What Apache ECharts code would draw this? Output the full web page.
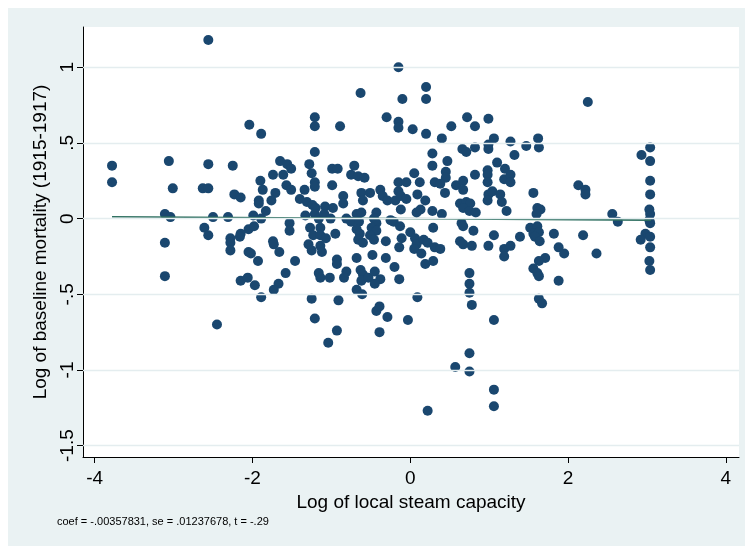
<!DOCTYPE html>
<html>
<head>
<meta charset="utf-8">
<script src="https://cdn.jsdelivr.net/npm/echarts@6/dist/echarts.min.js"></script>
<style>
html, body { margin: 0; padding: 0; background: #ffffff; }
#main { width: 745px; height: 546px; }
</style>
</head>
<body>
<div id="main"></div>
<script>
// log of local steam capacity (x) and log of baseline mortality (y), one entry per county
var steamCapacity = [
  -2.56, -2.04, -1.89, -3.78, -3.78, -3.06, -3.01, -2.56, -2.63, -2.56,
  -2.25, -1.65, -1.56, -1.51, -1.74, -1.61, -1.90, -1.87, -1.71, -1.57,
  -1.51, -2.23, -2.15, -1.92, -1.92, -1.76, -1.83, -1.40, -3.11, -3.04,
  -2.50, -2.31, -1.99, -1.89, -2.61, -2.56, -1.53, -1.53, -2.05, -1.98,
  -2.15, -2.16, -2.28, -2.28, -2.28, -3.11, -3.11, -1.74, -1.73, -1.66,
  -2.05, -2.02, -1.93, -1.46, -1.58, -1.67, -1.73, -2.15, -2.06, -1.97,
  -1.89, -2.45,
  -0.15, -0.63, 0.20, 0.20, -0.10, -1.21, -1.21, -0.89, -0.30, -0.15,
  -0.15, 0.03, 0.20, 0.40, 0.52, 0.72, 0.82, 0.99, 1.06, 0.99,
  0.99, 1.27, 1.32, 0.66, 0.71, 0.82, 0.28, 0.28, 0.47, -1.21,
  -1.28, -1.25, -1.21, -1.21, -1.34, -0.99, -0.92, -0.99, -0.71, -0.75,
  -0.66, -0.58, 0.05, 0.45, 0.45, 0.31, 0.38, 0.58, 0.67, 0.82,
  0.98, 0.98, 0.98, 1.10, 1.20, 1.19, 1.27, 1.27, -0.15, -0.05,
  0.12, -0.38, 0.67,
  -0.85, -0.85, -0.62, -0.51, -0.60, -0.35, -0.29, -0.19, -0.15, -0.12,
  -0.05, 0.09, 0.19, -0.12, 0.08, 0.13, 0.28, 0.40, 0.44, 0.63,
  0.71, 0.76, 0.67, 0.75, 0.83, 0.65, 0.67, 0.80, 0.99, 1.04,
  1.14, 1.16, 0.98, 1.22,
  -1.31, -1.24, -1.20, -1.33, -1.21, -1.16, -1.08, -0.98, -1.09, -1.01,
  -0.81, -0.75, -0.68, -0.62, -0.65, -0.43, -0.46, -0.43, -0.25, -0.21,
  -1.27, -1.14, -1.23, -1.14, -1.29, -1.25, -1.14, -1.12, -0.95, -1.07,
  -0.68, -0.64, -0.66, -0.60, -0.49, -0.43, -0.51, -0.46, -0.31, -0.13,
  -0.11, 0.00, 0.06, 0.08, 0.05, 0.17, 0.22, 0.29, 0.31, 0.38,
  0.14, 0.19, 0.29, -0.14, -0.31, -0.20, -0.48, -0.68, -0.93, -0.93,
  -1.16, -1.14, -1.02, -0.81, -0.84, -0.63, -0.60, -0.62, -0.53, -0.45,
  -0.38, -0.45, -0.14, -0.68, -0.61, -1.25, -0.91, 0.09, 0.63, 0.67,
  0.78, 0.99, 1.06, 1.19, 1.19, 1.27, 1.39, 0.75, 0.75, 0.75,
  -1.21, -0.93, -1.04, -0.43, -0.39, -0.29, -0.39, -0.03, 0.22, 0.78,
  1.06, 0.75, 0.57, 0.75, 1.06, 1.06,
  2.25, 1.62, 1.47, 1.63, 3.04, 2.93, 3.04, 3.04, 2.13, 2.22,
  2.22, 1.56, 3.04, 1.61, 1.65, 1.60, 2.56, 2.63, 3.03, 3.04,
  3.03, 3.04, 1.52, 1.61, 1.56, 1.63, 1.58, 1.64, 1.82, 2.19,
  1.88, 1.95, 2.36, 2.98, 3.04, 2.92, 3.04, 3.03, 3.04, 1.71,
  1.63, 1.56, 1.61, 1.63, 1.88, 1.63, 1.67
];
var baselineMortality = [
  1.18, 0.62, 0.56, 0.35, 0.24, 0.38, 0.20, 0.36, 0.20, 0.20,
  0.35, 0.38, 0.36, 0.33, 0.29, 0.29, 0.25, 0.19, 0.17, 0.22,
  0.19, 0.16, 0.14, 0.12, 0.10, 0.12, 0.05, 0.13, 0.03, 0.01,
  0.01, 0.01, 0.02, 0.00, -0.06, -0.11, -0.03, -0.08, -0.07, -0.05,
  -0.10, -0.12, -0.13, -0.16, -0.21, -0.16, -0.38, -0.15, -0.17, -0.22,
  -0.22, -0.23, -0.28, -0.28, -0.36, -0.43, -0.47, -0.41, -0.39, -0.44,
  -0.52, -0.70,
  1.00, 0.83, 0.87, 0.79, 0.79, 0.67, 0.61, 0.61, 0.67, 0.64,
  0.60, 0.59, 0.56, 0.53, 0.61, 0.67, 0.61, 0.66, 0.53, 0.49,
  0.46, 0.51, 0.42, 0.46, 0.44, 0.47, 0.43, 0.35, 0.38, 0.44,
  0.36, 0.30, 0.24, 0.21, 0.19, 0.33, 0.33, 0.22, 0.35, 0.29,
  0.28, 0.27, 0.30, 0.31, 0.27, 0.24, 0.23, 0.22, 0.25, 0.29,
  0.32, 0.29, 0.24, 0.37, 0.33, 0.26, 0.29, 0.24, 0.24, 0.24,
  0.24, 0.19, 0.19,
  0.15, 0.10, 0.17, 0.17, 0.12, 0.15, 0.12, 0.12, 0.18, 0.15,
  0.13, 0.16, 0.12, 0.06, 0.04, 0.06, 0.05, 0.03, 0.17, 0.10,
  0.11, 0.10, 0.07, 0.05, 0.04, -0.03, -0.05, -0.08, 0.16, 0.18,
  0.16, 0.11, 0.12, 0.05,
  0.11, 0.09, 0.07, 0.02, 0.03, 0.00, 0.08, 0.07, 0.03, 0.00,
  0.00, -0.02, 0.03, 0.04, -0.02, 0.04, 0.00, -0.03, -0.01, -0.02,
  -0.06, -0.06, -0.11, -0.11, -0.17, -0.21, -0.18, -0.22, -0.10, -0.13,
  -0.07, -0.10, -0.14, -0.16, -0.06, -0.08, -0.11, -0.14, -0.15, -0.05,
  -0.13, -0.09, -0.13, -0.17, -0.20, -0.14, -0.16, -0.06, -0.19, -0.20,
  -0.23, -0.30, -0.28, -0.19, -0.26, -0.32, -0.24, -0.26, -0.27, -0.30,
  -0.36, -0.39, -0.39, -0.35, -0.39, -0.34, -0.37, -0.41, -0.39, -0.35,
  -0.40, -0.43, -0.40, -0.47, -0.50, -0.53, -0.54, -0.52, -0.15, -0.17,
  -0.18, -0.18, -0.11, -0.20, -0.25, -0.18, -0.12, -0.36, -0.43, -0.49,
  -0.66, -0.74, -0.82, -0.61, -0.58, -0.65, -0.75, -0.67, -1.27, -0.57,
  -0.67, -0.89, -0.98, -1.01, -1.13, -1.24,
  0.77, 0.53, 0.48, 0.47, 0.47, 0.42, 0.38, 0.25, 0.22, 0.19,
  0.16, 0.17, 0.16, 0.07, 0.06, 0.03, 0.03, -0.02, 0.06, 0.03,
  -0.01, -0.03, -0.06, -0.05, -0.10, -0.09, -0.12, -0.15, -0.10, -0.11,
  -0.19, -0.23, -0.23, -0.10, -0.12, -0.14, -0.19, -0.28, -0.34, -0.26,
  -0.28, -0.33, -0.36, -0.38, -0.41, -0.53, -0.56
];

// fitted line end points
var fitX = [-3.78, 3.05];
var fitY = [0.012, -0.010];

var xTicks = [-4, -2, 0, 2, 4];
var xTickLabels = ['-4', '-2', '0', '2', '4'];
var yTicks = [-1.5, -1, -0.5, 0, 0.5, 1];
var yTickLabels = ['-1.5', '-1', '-.5', '0', '.5', '1'];

var xTitle = 'Log of local steam capacity';
var yTitle = 'Log of baseline mortality (1915-1917)';
var noteText = 'coef = -.00357831, se = .01237678, t = -.29';

function tickLabel(ticks, labels) {
    return function (v) {
        for (var i = 0; i < ticks.length; i++) {
            if (Math.abs(ticks[i] - v) < 1e-9) return labels[i];
        }
        return '';
    };
}

var points = steamCapacity.map(function (x, i) { return [x, baselineMortality[i]]; });
var fitPoints = fitX.map(function (x, i) { return [x, fitY[i]]; });

var dom = document.getElementById('main');
var myChart = echarts.init(dom, null, { renderer: 'canvas' });

var font = "'Liberation Sans', Arial, Helvetica, sans-serif";

var option = {
    backgroundColor: '#ffffff',
    animation: false,
    textStyle: { fontFamily: font },
    graphic: [
        { type: 'rect', z: -2, silent: true, shape: { x: 8, y: 8, width: 737, height: 538 }, style: { fill: '#eaf2f3' } },
        { type: 'rect', z: -1, silent: true, shape: { x: 83, y: 27, width: 656, height: 430 }, style: { fill: '#ffffff' } },
        { type: 'text', z: 5, left: 57, top: 516, style: { text: noteText, fill: '#000', font: '11px ' + font } }
    ],
    grid: { left: 83, right: 6, top: 27, bottom: 89 },
    xAxis: {
        type: 'value',
        min: -4.148,
        max: 4.166,
        name: xTitle,
        nameLocation: 'middle',
        nameGap: 30,
        nameTextStyle: { fontSize: 19, color: '#000' },
        axisLine: { onZero: false, lineStyle: { color: '#000', width: 1 } },
        axisTick: { customValues: xTicks, length: 6, lineStyle: { color: '#000', width: 1 } },
        axisLabel: { customValues: xTicks, margin: 12, fontSize: 19, color: '#000', formatter: tickLabel(xTicks, xTickLabels) },
        splitLine: { show: false }
    },
    yAxis: {
        type: 'value',
        min: -1.575,
        max: 1.266,
        name: yTitle,
        nameLocation: 'middle',
        nameGap: 32,
        nameTextStyle: { fontSize: 19, color: '#000' },
        axisLine: { onZero: false, lineStyle: { color: '#000', width: 1 } },
        axisTick: { customValues: yTicks, length: 6, lineStyle: { color: '#000', width: 1 } },
        axisLabel: { customValues: yTicks, rotate: 90, margin: 6, fontSize: 19, color: '#000', formatter: tickLabel(yTicks, yTickLabels) },
        splitLine: { show: false }
    },
    series: [
        {
            // horizontal grid lines at the y ticks
            type: 'line',
            data: [],
            z: 1,
            silent: true,
            markLine: {
                silent: true,
                symbol: 'none',
                label: { show: false },
                lineStyle: { color: '#e4edef', width: 1.3, type: 'solid' },
                data: yTicks.map(function (v) { return { yAxis: v }; })
            }
        },
        {
            type: 'scatter',
            data: points,
            symbol: 'circle',
            symbolSize: 10,
            z: 2,
            itemStyle: { color: '#1a476f', opacity: 1 }
        },
        {
            type: 'line',
            data: fitPoints,
            symbol: 'none',
            z: 3,
            lineStyle: { color: '#2e6f60', width: 1.6 }
        }
    ]
};

if (option && typeof option === 'object') {
    myChart.setOption(option);
}

window.addEventListener('resize', myChart.resize);
</script>
</body>
</html>
